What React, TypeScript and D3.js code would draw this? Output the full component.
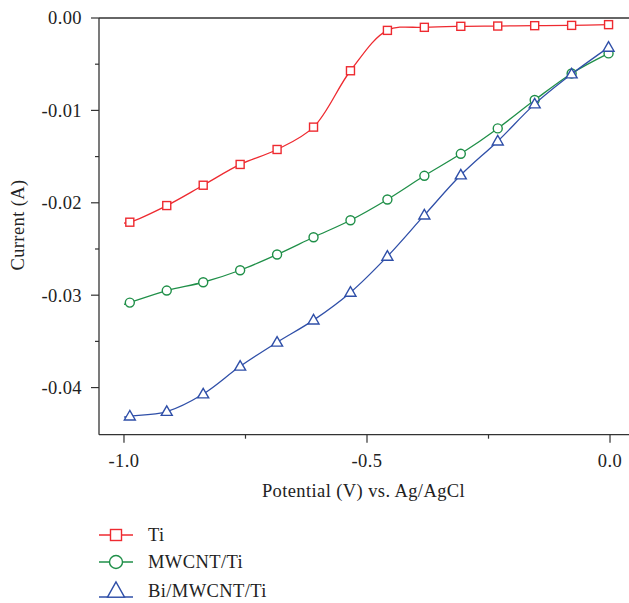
import React from "react";
import * as d3 from "d3";

const potential = [-1.0, -0.988, -0.912, -0.837, -0.761, -0.685, -0.61, -0.534, -0.458, -0.382, -0.307, -0.231, -0.155, -0.079, -0.003];
const tiValues = [-0.0222, -0.0221, -0.0203, -0.0181, -0.01585, -0.01423, -0.01181, -0.00571, -0.00134, -0.00101, -0.0009, -0.00087, -0.00083, -0.0008, -0.00072];
const mwcntValues = [-0.031, -0.0308, -0.0295, -0.0286, -0.0273, -0.0256, -0.02373, -0.02189, -0.01964, -0.01708, -0.0147, -0.01195, -0.00888, -0.006, -0.00383];
const biValues = [-0.0432, -0.0431, -0.0426, -0.0407, -0.0377, -0.0351, -0.0327, -0.0297, -0.0258, -0.02134, -0.017, -0.01333, -0.00932, -0.00607, -0.00318];

const seriesNames = ["Ti", "MWCNT/Ti", "Bi/MWCNT/Ti"];
const xTicks = [-1.0, -0.5, 0.0];
const xMinorTicks = [-0.75, -0.25];
const yTicks = [0, -0.01, -0.02, -0.03, -0.04];
const yMinorTicks = [-0.005, -0.015, -0.025, -0.035];

const colors = ["#ee2a30", "#1f8f48", "#2f4fa8"];
const markers = ["square", "circle", "triangle"];
const FONT = "'Liberation Serif', 'Times New Roman', 'DejaVu Serif', serif";
const AXIS = "#333333";
const textStyle = { fontFamily: FONT, fontSize: "18.5px", letterSpacing: "0.4px" };

function Marker({ type, x, y, color, s }: { type: string; x: number; y: number; color: string; s: number }) {
  if (type === "square")
    return <rect x={x - s / 2} y={y - s / 2} width={s} height={s} fill="white" stroke={color} strokeWidth={1.4} />;
  if (type === "circle") return <circle cx={x} cy={y} r={s / 2} fill="white" stroke={color} strokeWidth={1.4} />;
  const h = s * 0.95;
  const pts = [
    [x, y - h * 0.6],
    [x - s / 2 - 0.5, y + h * 0.4],
    [x + s / 2 + 0.5, y + h * 0.4],
  ];
  return <polygon points={pts.map((p) => p.join(",")).join(" ")} fill="white" stroke={color} strokeWidth={1.4} />;
}

export default function App() {
  const W = 629;
  const H = 603;
  const left = 99;
  const right = 628;
  const top = 18;
  const bottom = 434.7;
  const x = d3.scaleLinear().domain([-1.0514, 0.037]).range([left, right]);
  const y = d3.scaleLinear().domain([-0.0451, 0]).range([bottom, top]);
  const allSeries = [tiValues, mwcntValues, biValues];
  const line = d3
    .line<[number, number]>()
    .x((d) => x(d[0]))
    .y((d) => y(d[1]))
    .curve(d3.curveCatmullRom.alpha(0.5));

  return (
    <svg width={W} height={H} style={{ position: "absolute", left: 0, top: 0, background: "white" }}>
      {/* axes frame */}
      <line x1={left} x2={right + 1} y1={top} y2={top} stroke={AXIS} strokeWidth={1.3} />
      <line x1={left} x2={right + 1} y1={bottom} y2={bottom} stroke={AXIS} strokeWidth={1.3} />
      <line x1={left} x2={left} y1={top} y2={bottom} stroke={AXIS} strokeWidth={1.3} />
      {/* y ticks */}
      {yTicks.map((t) => (
        <g key={"y" + t}>
          <line x1={left - 8} x2={left} y1={y(t)} y2={y(t)} stroke={AXIS} strokeWidth={1.2} />
          <text x={left - 17} y={y(t)} dy="0.35em" textAnchor="end" style={textStyle} fill="#222">
            {d3.format(".2f")(t).replace("−", "-")}
          </text>
        </g>
      ))}
      {yMinorTicks.map((t) => (
        <line key={"ym" + t} x1={left - 4} x2={left} y1={y(t)} y2={y(t)} stroke={AXIS} strokeWidth={1.2} />
      ))}
      {/* x ticks */}
      {xTicks.map((t) => (
        <g key={"x" + t}>
          <line x1={x(t)} x2={x(t)} y1={bottom} y2={bottom + 8} stroke={AXIS} strokeWidth={1.2} />
          <text x={x(t)} y={467} textAnchor="middle" style={textStyle} fill="#222">
            {d3.format(".1f")(t).replace("−", "-")}
          </text>
        </g>
      ))}
      {xMinorTicks.map((t) => (
        <line key={"xm" + t} x1={x(t)} x2={x(t)} y1={bottom} y2={bottom + 4} stroke={AXIS} strokeWidth={1.2} />
      ))}
      {/* axis labels */}
      <text x={363.5} y={497} textAnchor="middle" style={textStyle} fill="#222">
        Potential (V) vs. Ag/AgCl
      </text>
      <text transform="translate(24,225) rotate(-90)" textAnchor="middle" style={textStyle} fill="#222">
        Current (A)
      </text>
      {/* series */}
      {allSeries.map((vals, i) => {
        const pts = potential.map((p, j) => [p, vals[j]] as [number, number]);
        return (
          <g key={"s" + i}>
            <path d={line(pts) || ""} fill="none" stroke={colors[i]} strokeWidth={1.3} />
            {pts.slice(1).map((p, j) => (
              <Marker key={j} type={markers[i]} x={x(p[0])} y={y(p[1])} color={colors[i]} s={i === 0 ? 8 : i === 1 ? 9 : 10} />
            ))}
          </g>
        );
      })}
      {/* legend */}
      {seriesNames.map((name, i) => {
        const ly = [535, 562, 591][i];
        return (
          <g key={"l" + i}>
            <line x1={99} x2={133} y1={i === 2 ? ly + 6 : ly} y2={i === 2 ? ly + 6 : ly} stroke={colors[i]} strokeWidth={1.3} />
            <Marker type={markers[i]} x={116} y={ly} color={colors[i]} s={i === 0 ? 11 : i === 1 ? 13 : 16} />
            <text x={148} y={ly} dy="0.35em" style={textStyle} fill="#222">
              {name}
            </text>
          </g>
        );
      })}
    </svg>
  );
}
